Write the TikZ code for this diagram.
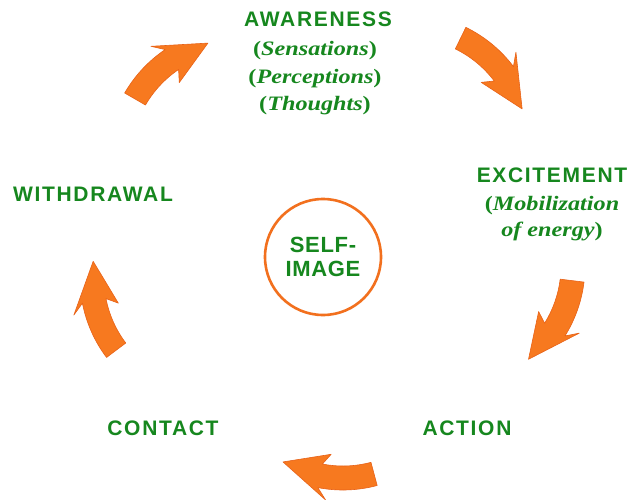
\documentclass[tikz,border=0pt]{standalone}
\usepackage{fontspec}
\usepackage{graphicx}
\setmainfont{Liberation Serif}
\newfontfamily\capsfont{Liberation Sans}[LetterSpace=8]
\newfontfamily\selffont{Liberation Sans}[LetterSpace=3]
\definecolor{tgreen}{RGB}{22,135,30}
\definecolor{aorange}{RGB}{247,121,31}
\definecolor{aedge}{RGB}{232,98,24}
\definecolor{corange}{RGB}{242,112,30}
\tikzset{
  capslabel/.style={font=\capsfont\bfseries\fontsize{21}{24}\selectfont, text=tgreen, anchor=base, inner sep=0pt},
  serlabel/.style={font=\bfseries\fontsize{20.5}{24}\selectfont, text=tgreen, anchor=base, inner sep=0pt},
  arrowshape/.style={fill=aorange, draw=aedge, line width=0.6pt, line join=round},
  selfcircle/.style={circle, draw=corange, line width=2.6pt, minimum size=116pt, inner sep=0pt,
    align=center, text=tgreen, font=\selffont\bfseries\fontsize{22}{24}\selectfont}
}
\newcommand\cyclearrow[5]{%
  \begin{scope}[shift={(#1,#2)}]
    \path[arrowshape] (#3:132) arc[start angle=#3, end angle={#4-19}, radius=132]
      -- ({#4-23}:143) -- (#4:120) -- ({#4-23}:97) -- ({#4-19}:108)
      arc[start angle={#4-19}, end angle=#3, radius=108] -- cycle;
  \end{scope}}
\newcommand\ser[1]{\scalebox{1.18}[1]{#1}}
\begin{document}
\begin{tikzpicture}[x=1pt, y=-1pt]
  \useasboundingbox (0,0) rectangle (630,499);
  \fill[white] (0,0) rectangle (630,499);

  % arrows
  \cyclearrow{239}{159}{210}{255}{a1}
  \cyclearrow{408}{146}{296}{342}{a2}
  \cyclearrow{453}{266}{7}{51}{a3}
  \cyclearrow{343}{358}{75}{120}{a4}
  \cyclearrow{212}{278}{143}{188}{a5}

  % awareness
  \node[capslabel] (aw) at (318,26) {AWARENESS};
  \node[serlabel] (aw1) at (315,55) {\ser{(\textit{Sensations})}};
  \node[serlabel] (aw2) at (315,83) {\ser{(\textit{Perceptions})}};
  \node[serlabel] (aw3) at (315,110) {\ser{(\textit{Thoughts})}};

  % excitement
  \node[capslabel] (ex) at (552,182) {EXCITEMENT};
  \node[serlabel] (ex1) at (552,210) {\ser{(\textit{Mobilization}}};
  \node[serlabel] (ex2) at (552,236) {\ser{\textit{of energy})}};

  \node[capslabel] (wd) at (93,201) {WITHDRAWAL};
  \node[capslabel] (ct) at (163,435) {CONTACT};
  \node[capslabel] (ac) at (467,435) {ACTION};

  \node[selfcircle] (self) at (323,257) {SELF-\\IMAGE};
\end{tikzpicture}
\end{document}
